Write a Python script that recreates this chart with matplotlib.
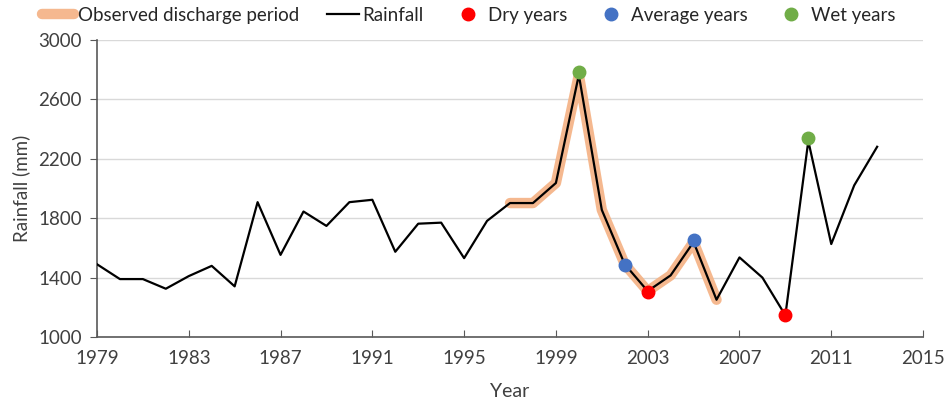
import matplotlib
matplotlib.use("Agg")
import matplotlib.pyplot as plt

plt.rcParams['font.family'] = ['Lato', 'DejaVu Sans']

years = list(range(1979, 2014))
rainfall = [1490, 1390, 1390, 1325, 1410, 1479, 1341, 1908, 1553, 1845,
            1748, 1908, 1924, 1574, 1763, 1770, 1531, 1782, 1902, 1902,
            2037, 2765, 1856, 1490, 1309, 1415, 1640, 1251, 1536, 1400,
            1146, 2320, 1626, 2021, 2281]

# observed discharge period
obs_start = 1997
obs_end = 2006

dry_years = [2003, 2009]
dry_vals = [1305, 1150]
avg_years = [2002, 2005]
avg_vals = [1485, 1655]
wet_years = [2000, 2010]
wet_vals = [2785, 2340]

fig = plt.figure(figsize=(9.47, 4.0), dpi=100)
ax = fig.add_axes([0.1024, 0.1575, 0.8723, 0.7425])

i0 = years.index(obs_start)
i1 = years.index(obs_end) + 1
ax.plot(years[i0:i1], rainfall[i0:i1], color="#F4B183", linewidth=7.5,
        solid_joinstyle="round", solid_capstyle="round", alpha=0.9,
        label="Observed discharge period", zorder=2)
ax.plot(years, rainfall, color="black", linewidth=1.6, label="Rainfall", zorder=3)
ax.plot(dry_years, dry_vals, "o", color="#FF0000", markersize=9, label="Dry years", zorder=4)
ax.plot(avg_years, avg_vals, "o", color="#4472C4", markersize=9, label="Average years", zorder=4)
ax.plot(wet_years, wet_vals, "o", color="#70AD47", markersize=9, label="Wet years", zorder=4)

ax.set_xlim(1979, 2015)
ax.set_ylim(1000, 3000)
ax.set_xticks(range(1979, 2016, 4))
ax.set_yticks(range(1000, 3001, 400))
ax.grid(axis="y", color="#D9D9D9", linewidth=1)
ax.set_axisbelow(True)

for s in ["top", "right"]:
    ax.spines[s].set_visible(False)
for s in ["left", "bottom"]:
    ax.spines[s].set_color("#595959")
    ax.spines[s].set_linewidth(1.2)

ax.tick_params(axis="x", direction="in", length=5, color="#595959",
               labelsize=13.5, labelcolor="#404040", pad=9)
ax.tick_params(axis="y", direction="out", length=5, color="#595959",
               labelsize=13.5, labelcolor="#404040", pad=6)

ax.set_xlabel("Year", fontsize=14, color="#404040", labelpad=12)
ax.set_ylabel("Rainfall (mm)", fontsize=13.5, color="#404040", labelpad=6)

fig.legend(loc="upper center", bbox_to_anchor=(0.495, 1.025), ncol=5, frameon=False,
           fontsize=13.5, handlelength=1.7, columnspacing=1.5, handletextpad=0.2,
           labelcolor="#262626")

fig.savefig("out.png", dpi=100)
